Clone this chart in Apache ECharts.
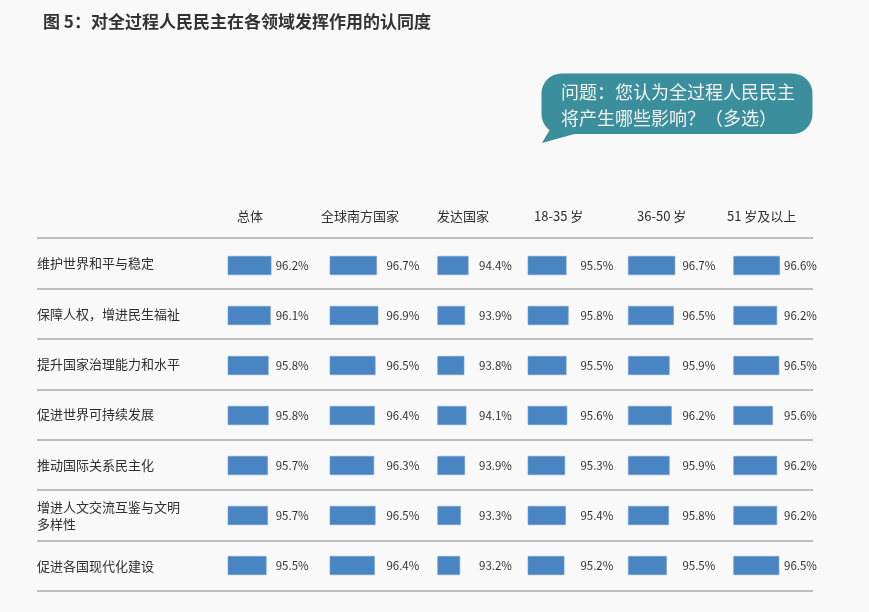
<!DOCTYPE html>
<html>
<head>
<meta charset="utf-8">
<script src="https://cdn.jsdelivr.net/npm/echarts@6/dist/echarts.min.js"></script>
<style>
  html, body { margin: 0; padding: 0; background: #f9f9f9; }
  #main { width: 869px; height: 612px; }
</style>
</head>
<body>
<div id="main"></div>
<script>
// 行标签
var categories = ['维护世界和平与稳定', '保障人权，增进民生福祉', '提升国家治理能力和水平', '促进世界可持续发展',
  '推动国际关系民主化', '增进人文交流互鉴与文明\n多样性', '促进各国现代化建设'];
// 列标题
var groups = ['总体', '全球南方国家', '发达国家', '18-35 岁', '36-50 岁', '51 岁及以上'];
// 各列数值 (%)
var total = [96.2, 96.1, 95.8, 95.8, 95.7, 95.7, 95.5];
var globalSouth = [96.7, 96.9, 96.5, 96.4, 96.3, 96.5, 96.4];
var developed = [94.4, 93.9, 93.8, 94.1, 93.9, 93.3, 93.2];
var age18to35 = [95.5, 95.8, 95.5, 95.6, 95.3, 95.4, 95.2];
var age36to50 = [96.7, 96.5, 95.9, 96.2, 95.9, 95.8, 95.5];
var age51plus = [96.6, 96.2, 96.5, 95.6, 96.2, 96.2, 96.5];
var columns = [total, globalSouth, developed, age18to35, age36to50, age51plus];

// 版面位置
var barLeft = [228, 330, 437.7, 528, 628.3, 733.7];
var labelGap = [48, 56.7, 41.6, 52.7, 54.4, 50.6];
var headerX = [237, 321, 437, 534, 637, 727];

var font = '"Noto Sans CJK SC", "Noto Sans", sans-serif';
var myChart = echarts.init(document.getElementById('main'));

var grids = [], xAxes = [], yAxes = [], series = [];

// 分隔线 + 行标签
grids.push({ left: 37, right: 56, top: 238, height: 353 });
xAxes.push({ type: 'value', gridIndex: 0, show: false });
yAxes.push({
  type: 'category', gridIndex: 0, inverse: true, data: categories,
  axisLine: { show: false }, axisTick: { show: false },
  axisLabel: { inside: true, margin: 0, color: '#2e2e2e', fontSize: 13, lineHeight: 17, fontFamily: font },
  splitLine: { show: true, lineStyle: { color: '#a9a9a9', width: 1.5 } }
});

columns.forEach(function (vals, i) {
  var gi = i + 1;
  grids.push({ left: barLeft[i], width: 70, top: 240.5, height: 350 });
  xAxes.push({ type: 'value', gridIndex: gi, min: 90, max: 100, show: false });
  yAxes.push({ type: 'category', gridIndex: gi, inverse: true, data: categories, show: false });
  series.push({
    type: 'bar', xAxisIndex: gi, yAxisIndex: gi, data: vals, barWidth: 19,
    itemStyle: { color: '#4a85c3', borderColor: '#6b9dd0', borderWidth: 0.6 },
    silent: true,
    label: {
      show: true, position: [labelGap[i], '50%'], align: 'left', verticalAlign: 'middle',
      color: '#333', fontSize: 11.5, fontFamily: font,
      formatter: function (p) { return p.value.toFixed(1) + '%'; }
    }
  });
});

var graphics = groups.map(function (g, i) {
  return {
    type: 'text', left: headerX[i], top: 210,
    style: { text: g, fill: '#2e2e2e', fontSize: 13, fontFamily: font }
  };
});
// 对话气泡
graphics.push({
  type: 'polygon', shape: { points: [[552, 126], [542, 143], [578, 133]] },
  style: { fill: '#3b8f9c' }
});
graphics.push({
  type: 'rect', shape: { x: 541.5, y: 73.5, width: 271, height: 60.5, r: 20 },
  style: { fill: '#3b8f9c' }
});
graphics.push({
  type: 'text', left: 561, top: 79,
  style: { text: '问题：您认为全过程人民民主\n将产生哪些影响？（多选）', fill: '#f2f2f2', fontSize: 18, lineHeight: 26, fontFamily: font }
});

var option = {
  backgroundColor: '#f9f9f9',
  title: {
    text: '图 5：对全过程人民民主在各领域发挥作用的认同度',
    left: 38, top: 8,
    textStyle: { color: '#333', fontSize: 17, fontWeight: 'bold', fontFamily: font }
  },
  grid: grids,
  xAxis: xAxes,
  yAxis: yAxes,
  series: series,
  graphic: graphics
};
myChart.setOption(option);
</script>
</body>
</html>
